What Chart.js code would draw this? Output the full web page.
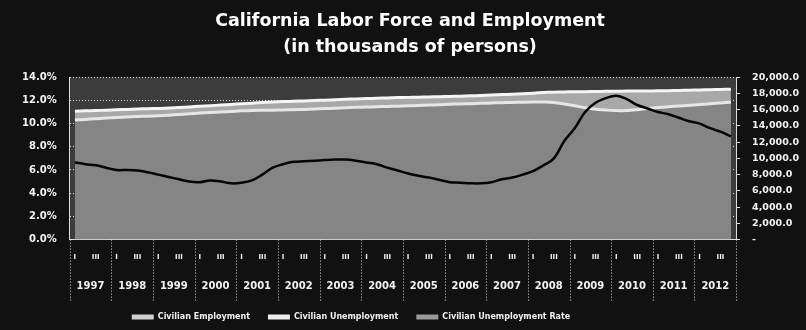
<!DOCTYPE html>
<html>
<head>
<meta charset="utf-8">
<script src="https://cdn.jsdelivr.net/npm/chart.js@4.4.1/dist/chart.umd.min.js"></script>
<style>
  html, body { margin: 0; padding: 0; background: #111; }
  #wrap { width: 806px; height: 330px; }
</style>
</head>
<body>
<div id="wrap"><canvas id="labor-chart"></canvas></div>
<script>
// years shown under the axis, quarters inside each year box
const years = ["1997", "1998", "1999", "2000", "2001", "2002", "2003", "2004",
  "2005", "2006", "2007", "2008", "2009", "2010", "2011", "2012"];
const quarterNames = ["I", "II", "III", "IV"];

// civilian labor force (thousands) - top of the light band
const laborForce = [
  15810, 15850, 15890, 15930, 15980, 16030, 16080, 16120,
  16150, 16190, 16260, 16340, 16410, 16490, 16560, 16640,
  16720, 16800, 16880, 16940, 16990, 17030, 17070, 17120,
  17170, 17220, 17270, 17320, 17360, 17400, 17440, 17480,
  17510, 17540, 17570, 17600, 17630, 17660, 17700, 17750,
  17800, 17850, 17900, 17960, 18030, 18100, 18150, 18180,
  18200, 18210, 18230, 18250, 18270, 18280, 18290, 18300,
  18320, 18340, 18370, 18400, 18430, 18460, 18490, 18520
];

// civilian employment (thousands)
const employment = [
  14720, 14800, 14880, 14960, 15030, 15090, 15150, 15200,
  15250, 15320, 15400, 15490, 15580, 15650, 15710, 15780,
  15850, 15900, 15920, 15940, 15960, 15990, 16030, 16080,
  16130, 16180, 16230, 16280, 16320, 16360, 16400, 16430,
  16470, 16510, 16560, 16610, 16660, 16700, 16740, 16780,
  16820, 16860, 16890, 16920, 16940, 16930, 16880, 16700,
  16480, 16230, 16050, 15950, 15880, 15900, 16000, 16130,
  16250, 16360, 16450, 16530, 16620, 16720, 16830, 16920
];

// civilian unemployment rate (%)
const unemploymentRate = [
  6.65, 6.5, 6.4, 6.2, 6.0, 6.0, 5.95, 5.8,
  5.6, 5.4, 5.2, 5.0, 4.95, 5.1, 5.0, 4.85,
  4.9, 5.1, 5.6, 6.2, 6.5, 6.7, 6.75, 6.8,
  6.85, 6.9, 6.9, 6.8, 6.65, 6.5, 6.2, 5.95,
  5.7, 5.5, 5.35, 5.15, 4.95, 4.9, 4.85, 4.85,
  4.95, 5.2, 5.35, 5.6, 5.9, 6.4, 7.0, 8.5,
  9.6, 11.0, 11.8, 12.2, 12.4, 12.1, 11.6, 11.3,
  11.0, 10.8, 10.5, 10.2, 10.0, 9.6, 9.3, 8.9
];

const quarterLabels = years.flatMap(() => quarterNames);
const legendRank = [2, 0, 1]; // rate, employment, unemployment -> legend order

Chart.defaults.font.family = "'DejaVu Sans', Verdana, sans-serif";
Chart.defaults.color = "#f2f2f2";

// black page + grey plot background
const backdrop = {
  id: "backdrop",
  beforeDraw(chart) {
    const { ctx, chartArea: a } = chart;
    ctx.save();
    ctx.fillStyle = "#111";
    ctx.fillRect(0, 0, chart.width, chart.height);
    ctx.fillStyle = "#3c3c3c";
    ctx.fillRect(a.left, a.top, a.right - a.left, a.bottom - a.top);
    ctx.restore();
  },
};

// dotted separators between the year boxes
const yearLines = {
  id: "yearLines",
  afterDraw(chart) {
    const { ctx, chartArea } = chart;
    const ys = chart.scales.xYear;
    const step = ys.width / years.length;
    ctx.save();
    ctx.strokeStyle = "rgba(255,255,255,0.85)";
    ctx.lineWidth = 1;
    ctx.setLineDash([1, 2]);
    for (let k = 0; k <= years.length; k++) {
      const x = Math.round(ys.left + k * step) + 0.5;
      ctx.beginPath();
      ctx.moveTo(x, chartArea.bottom);
      ctx.lineTo(x, chartArea.bottom + 62);
      ctx.stroke();
    }
    ctx.restore();
  },
};

// legend sits left of centre and a bit higher in the original
const legendShift = {
  id: "legendShift",
  afterLayout(chart) {
    const lg = chart.legend;
    lg.left -= 59;
    lg.right -= 59;
    lg.top -= 3;
    lg.bottom -= 3;
  },
};

const ctx = document.getElementById("labor-chart").getContext("2d");
const laborChart = new Chart(ctx, {
  type: "line",
  data: {
    labels: quarterLabels,
    datasets: [
      {
        label: "Civilian Unemployment Rate",
        data: unemploymentRate,
        yAxisID: "y",
        borderColor: "#050505",
        backgroundColor: "#9a9a9a",
        borderWidth: 2.5,
        pointRadius: 0,
        tension: 0.4,
        fill: false,
        order: 0,
      },
      {
        label: "Civilian Employment",
        data: employment,
        yAxisID: "y1",
        borderColor: "#e6e6e6",
        backgroundColor: "#858585",
        borderWidth: 3,
        pointRadius: 0,
        tension: 0.3,
        fill: "origin",
        order: 1,
      },
      {
        label: "Civilian Unemployment",
        data: laborForce,
        yAxisID: "y1",
        borderColor: "#f5f5f5",
        backgroundColor: "#a8a8a8",
        borderWidth: 3,
        pointRadius: 0,
        tension: 0.3,
        fill: "origin",
        order: 2,
      },
    ],
  },
  options: {
    responsive: true,
    maintainAspectRatio: false,
    animation: false,
    layout: { padding: { left: 9, right: -5, top: 0, bottom: -4 } },
    plugins: {
      title: {
        display: true,
        text: ["California Labor Force and Employment", "(in thousands of persons)"],
        color: "#ffffff",
        font: { size: 17.5, weight: "bold", lineHeight: 1.49 },
        padding: { top: 8, bottom: 17 },
      },
      legend: {
        position: "bottom",
        labels: {
          boxWidth: 22,
          boxHeight: 5,
          padding: 18,
          font: { size: 8, weight: "bold" },
          color: "#f2f2f2",
          sort: (a, b) => legendRank[a.datasetIndex] - legendRank[b.datasetIndex],
          generateLabels(chart) {
            const items = Chart.defaults.plugins.legend.labels.generateLabels(chart);
            items.forEach((it) => {
              it.lineWidth = 0;
              if (it.datasetIndex === 0) it.fillStyle = "#9a9a9a";
              if (it.datasetIndex === 1) it.fillStyle = "#d0d0d0";
              if (it.datasetIndex === 2) it.fillStyle = "#ececec";
            });
            return items;
          },
        },
      },
      tooltip: { enabled: false },
    },
    scales: {
      x: {
        type: "category",
        offset: true,
        grid: { display: false, drawTicks: false },
        border: { display: true, color: "#dddddd" },
        ticks: {
          autoSkip: false,
          maxRotation: 0,
          padding: 13,
          font: { size: 7, weight: "bold" },
          callback(v) {
            const q = this.getLabelForValue(v);
            return q === "I" || q === "III" ? q : "";
          },
        },
      },
      xYear: {
        type: "category",
        position: "bottom",
        labels: years,
        offset: true,
        grid: { display: false, drawTicks: false },
        border: { display: false },
        ticks: {
          autoSkip: false,
          maxRotation: 0,
          padding: 6,
          font: { size: 10, weight: "bold" },
        },
      },
      y: {
        position: "left",
        min: 0,
        max: 14,
        grid: { color: "rgba(255,255,255,0.8)", drawTicks: false },
        border: { color: "#dddddd", dash: [1, 2] },
        ticks: {
          stepSize: 2,
          padding: 13,
          font: { size: 10, weight: "bold" },
          callback: (v) => v.toFixed(1) + "%",
        },
      },
      y1: {
        position: "right",
        min: 0,
        max: 20000,
        grid: { drawOnChartArea: false, tickLength: 4, tickColor: "#dddddd" },
        border: { color: "#dddddd" },
        ticks: {
          stepSize: 2000,
          autoSkip: false,
          padding: 12,
          font: { size: 9.5, weight: "bold" },
          callback: (v) =>
            v === 0 ? "-" : v.toLocaleString("en-US", { minimumFractionDigits: 1 }),
        },
      },
    },
  },
  plugins: [backdrop, yearLines, legendShift],
});
</script>
</body>
</html>
